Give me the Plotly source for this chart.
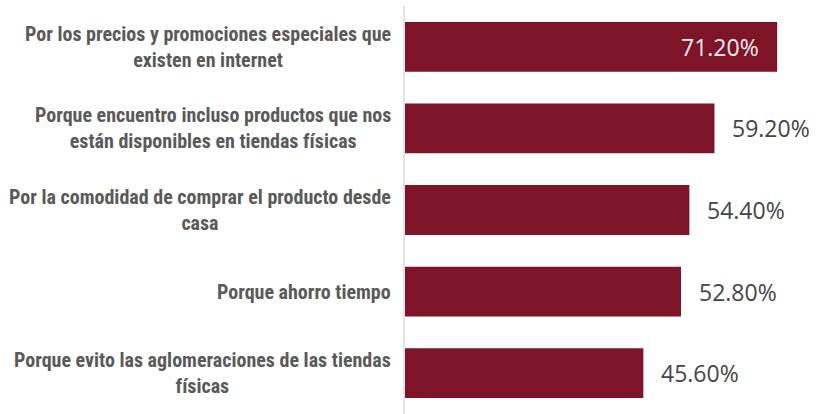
import plotly.graph_objects as go

# Motivos para comprar en línea (porcentaje de respuestas)
reasons = [
    "Por los precios y promociones especiales que<br>existen en internet",
    "Porque encuentro incluso productos que nos<br>están disponibles en tiendas físicas",
    "Por la comodidad de comprar el producto desde<br>casa",
    "Porque ahorro tiempo",
    "Porque evito las aglomeraciones de las tiendas<br>físicas",
]
shares = [71.2, 59.2, 54.4, 52.8, 45.6]
value_labels = ["71.20%", "59.20%", "54.40%", "52.80%", "45.60%"]

BAR_COLOR = "#7D1427"
LABEL_FONT = "Liberation Sans Narrow, Roboto Condensed, Arial Narrow, sans-serif"
VALUE_FONT = "Open Sans, Segoe UI, sans-serif"

fig = go.Figure(
    go.Bar(
        x=shares,
        y=reasons,
        orientation="h",
        marker=dict(color=BAR_COLOR, line=dict(width=0)),
        hoverinfo="skip",
    )
)

annotations = []
for i, (reason, val, lab) in enumerate(zip(reasons, shares, value_labels)):
    # Category label, lines centred, right edge next to the axis line
    annotations.append(dict(
        x=0, xref="paper", y=reason, yref="y",
        text=f"<b>{reason}</b>", showarrow=False,
        xanchor="right", yanchor="middle", align="center", xshift=-12,
        font=dict(family=LABEL_FONT, size=20, color="#5A5A5A"),
    ))
    # Value label: inside the longest bar, outside the others
    inside = i == 0
    annotations.append(dict(
        x=val, xref="x", y=reason, yref="y",
        text=lab, showarrow=False,
        xanchor="right" if inside else "left", yanchor="middle",
        xshift=-16 if inside else 16,
        font=dict(family=VALUE_FONT, size=23,
                  color="#FBECEF" if inside else "#454545"),
    ))

fig.update_layout(
    width=819, height=414,
    margin=dict(l=405, r=0, t=6, b=0),
    paper_bgcolor="white", plot_bgcolor="white",
    bargap=0.39,
    showlegend=False,
    annotations=annotations,
    xaxis=dict(range=[0, 79.2], visible=False, fixedrange=True),
    yaxis=dict(
        autorange="reversed", showticklabels=False, ticks="",
        showgrid=False, zeroline=False,
        showline=True, linecolor="#E3E3E3", linewidth=1.5,
        fixedrange=True,
    ),
)

fig.write_html("out.html", config={"displayModeBar": False})
